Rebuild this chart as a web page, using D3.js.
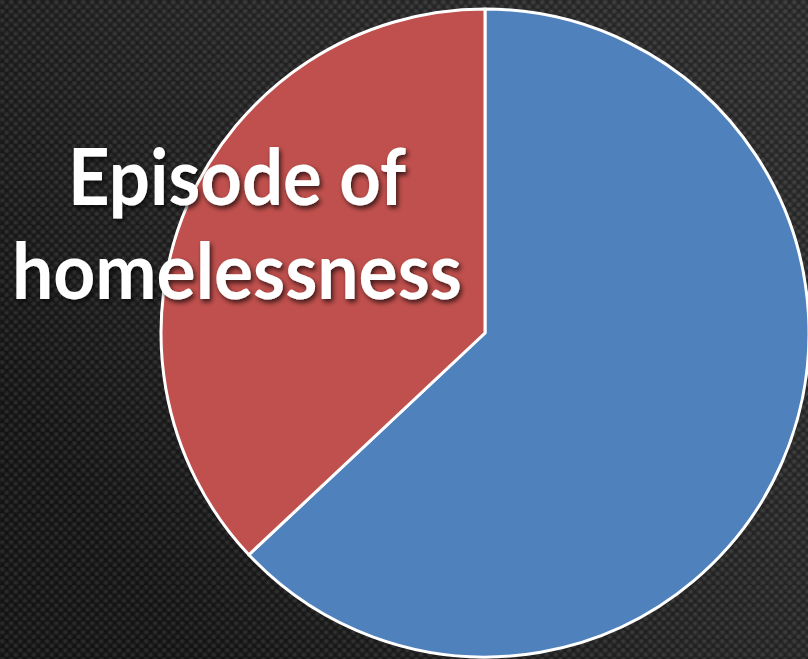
<!DOCTYPE html>
<html>
<head>
<meta charset="utf-8">
<script src="https://cdn.jsdelivr.net/npm/d3@7"></script>
<style>
html,body{margin:0;padding:0;background:#1a1a1a;overflow:hidden;}
svg{display:block;}
</style>
</head>
<body>
<script>
// Data
const categories = ["No", "Yes"];
const values = [63, 37];
const colors = ["#4F81BD", "#C0504D"];
const titleLines = ["Episode of", "homelessness"];

const W = 808, H = 659;
const cx = 485, cy = 333, r = 324;

const svg = d3.select("body").append("svg").attr("width", W).attr("height", H);
const defs = svg.append("defs");

// textured background
const pat = defs.append("pattern").attr("id", "tex").attr("width", 9).attr("height", 9)
  .attr("patternUnits", "userSpaceOnUse");
const rg = defs.append("radialGradient").attr("id", "spot");
rg.append("stop").attr("offset", "0%").attr("stop-color", "#3a3a3a");
rg.append("stop").attr("offset", "100%").attr("stop-color", "#3a3a3a").attr("stop-opacity", 0);
pat.append("rect").attr("width", 9).attr("height", 9).attr("fill", "#161616");
[[2.25, 2.25], [6.75, 6.75], [-2.25, 6.75], [11.25, 2.25]].forEach(([x, y]) =>
  pat.append("circle").attr("cx", x).attr("cy", y).attr("r", 3.6).attr("fill", "url(#spot)"));
svg.append("rect").attr("width", W).attr("height", H).attr("fill", "url(#tex)");

const lg = defs.append("linearGradient").attr("id", "shade")
  .attr("x1", "100%").attr("y1", "0%").attr("x2", "0%").attr("y2", "60%");
lg.append("stop").attr("offset", "0%").attr("stop-color", "#ffffff").attr("stop-opacity", 0.07);
lg.append("stop").attr("offset", "100%").attr("stop-color", "#000000").attr("stop-opacity", 0.15);
svg.append("rect").attr("width", W).attr("height", H).attr("fill", "url(#shade)");

// pie
const pie = d3.pie().sort(null).value(d => d.v);
const arc = d3.arc().innerRadius(0).outerRadius(r);
const data = categories.map((c, i) => ({c, v: values[i], col: colors[i]}));

svg.append("g").attr("transform", `translate(${cx},${cy})`)
  .selectAll("path").data(pie(data)).join("path")
  .attr("d", arc)
  .attr("fill", d => d.data.col)
  .attr("stroke", "#ffffff")
  .attr("stroke-width", 3)
  .attr("stroke-linejoin", "round");

// title text with shadow
const f = defs.append("filter").attr("id", "sh").attr("x", "-10%").attr("y", "-20%").attr("width", "120%").attr("height", "150%");
f.append("feDropShadow").attr("dx", 2).attr("dy", 3).attr("stdDeviation", 2.5)
  .attr("flood-color", "#000").attr("flood-opacity", 0.7);

const widths = [338, 450];
const ys = [205, 299];
svg.append("g").attr("filter", "url(#sh)")
  .selectAll("text").data(titleLines).join("text")
  .attr("x", 237)
  .attr("y", (d, i) => ys[i])
  .attr("text-anchor", "middle")
  .attr("font-family", "Lato, 'Open Sans', sans-serif")
  .attr("font-weight", "bold")
  .attr("font-size", 78)
  .attr("fill", "#ffffff")
  .attr("textLength", (d, i) => widths[i])
  .attr("lengthAdjust", "spacingAndGlyphs")
  .text(d => d);
</script>
</body>
</html>
